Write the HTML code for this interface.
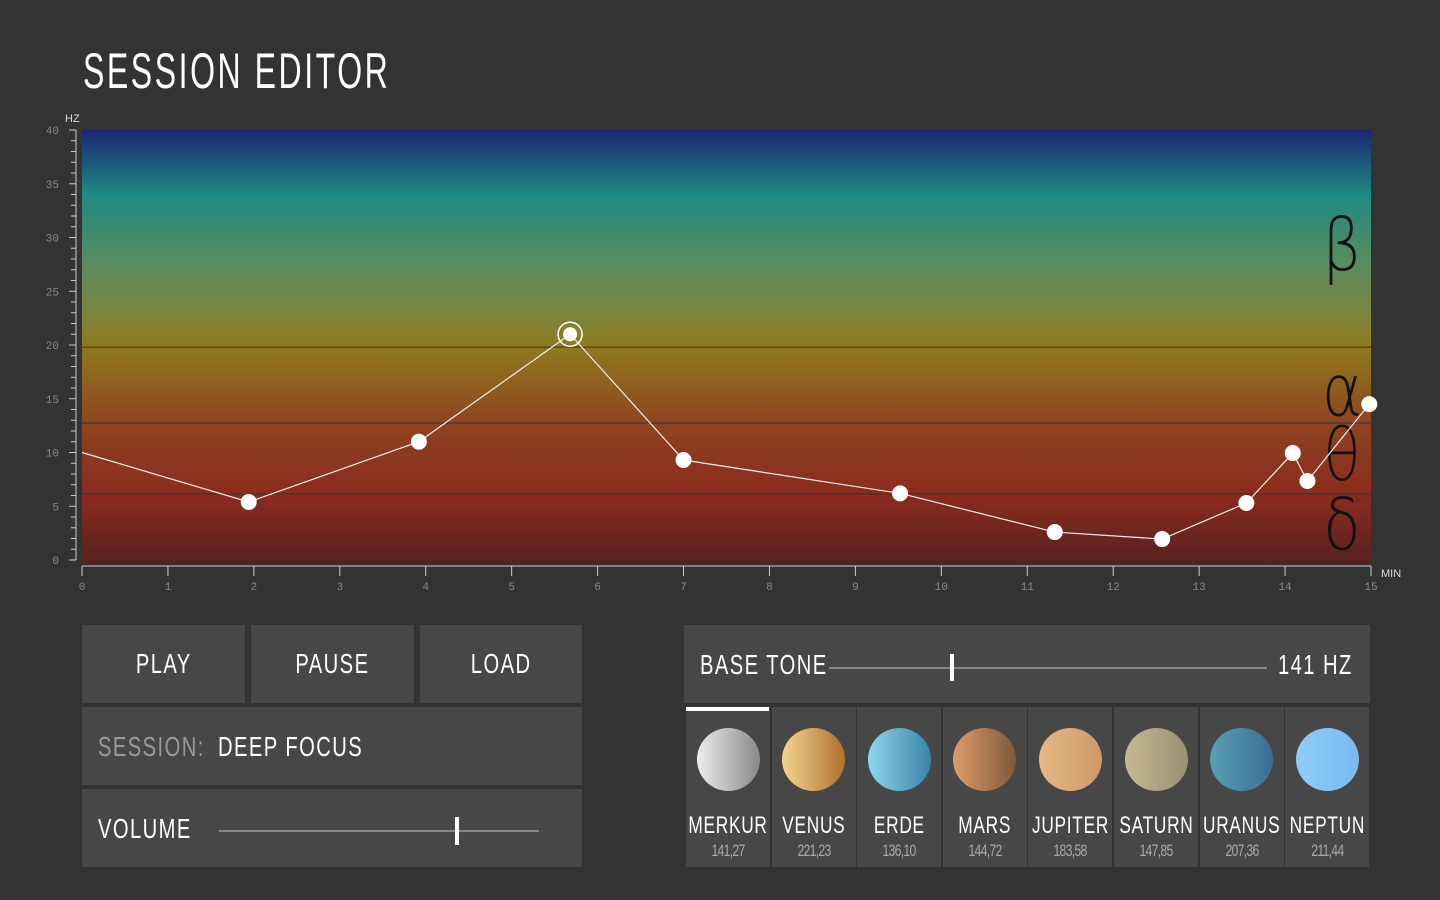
<!DOCTYPE html>
<html><head><meta charset="utf-8"><style>
body{margin:0;width:1440px;height:900px;background:#333;overflow:hidden;font-family:"Liberation Sans",sans-serif;color:#fff}
.abs{position:absolute}
.panel{position:absolute;background:#474747}
.btn{display:flex;align-items:center;justify-content:center;font-size:28px;letter-spacing:2px}
.lbl{font-size:28px;letter-spacing:2px;transform:scaleX(.72);transform-origin:left;white-space:nowrap}
.n{display:inline-block;transform:scaleX(.72);white-space:nowrap}
.cell{position:absolute;top:707px;width:84px;height:160px;background:#474747;text-align:center;overflow:visible}
.cell .ball{width:63px;height:63px;border-radius:50%;margin:21px auto 0}
.cell .nm{font-size:24px;margin-top:21px;white-space:nowrap;display:flex;justify-content:center;letter-spacing:1px}
.cell .v{font-size:17px;color:#aaa;margin-top:1px;letter-spacing:-1px;white-space:nowrap;display:flex;justify-content:center}
</style></head><body>
<div class="abs" style="left:83px;top:42px;font-size:50px;letter-spacing:4px;transform:scaleX(0.64);transform-origin:left;white-space:nowrap">SESSION EDITOR</div>
<svg id="chart" class="abs" style="left:0;top:0" width="1440" height="600">
<defs><linearGradient id="g" x1="0" y1="0" x2="0" y2="1">
<stop offset="0" stop-color="#1b2670"/><stop offset="0.15" stop-color="#1e8a82"/><stop offset="0.3" stop-color="#568c60"/><stop offset="0.42" stop-color="#7a8440"/><stop offset="0.5" stop-color="#8e7a1e"/><stop offset="0.68" stop-color="#8e4320"/><stop offset="0.85" stop-color="#8a2a1e"/><stop offset="1" stop-color="#56211f"/></linearGradient></defs>
</svg>
<div class="panel btn" style="left:82px;top:625px;width:163px;height:78px"><span class="n">PLAY</span></div>
<div class="panel btn" style="left:251px;top:625px;width:163px;height:78px"><span class="n">PAUSE</span></div>
<div class="panel btn" style="left:420px;top:625px;width:162px;height:78px"><span class="n">LOAD</span></div>
<div class="panel" style="left:82px;top:707px;width:500px;height:78px">
<span class="abs lbl" style="left:16px;top:24px;color:#999">SESSION:</span>
<span class="abs lbl" style="left:136px;top:24px">DEEP FOCUS</span></div>
<div class="panel" style="left:82px;top:789px;width:500px;height:78px">
<span class="abs lbl" style="left:16px;top:24px">VOLUME</span>
<div class="abs" style="left:137px;top:41px;width:320px;height:2px;background:#888"></div>
<div class="abs" style="left:373px;top:28px;width:4px;height:28px;background:#fff"></div></div>
<div class="panel" style="left:684px;top:625px;width:686px;height:78px">
<span class="abs lbl" style="left:16px;top:24px">BASE TONE</span>
<div class="abs" style="left:145px;top:42px;width:438px;height:2px;background:#888"></div>
<div class="abs" style="left:266px;top:29px;width:4px;height:27px;background:#fff"></div>
<span class="abs lbl" style="left:594px;top:24px">141 HZ</span></div>
<div id="cells"></div>
<script>
const X0=82,X1=1371,Y0=560,YS=10.75;
const xs=m=>X0+(X1-X0)*m/15, ys=h=>Y0-h*YS;
const timesMin=[0,1.94,3.92,5.68,7.0,9.52,11.32,12.57,13.55,14.09,14.26,14.98];
const freqHz=[10,5.4,11,21,9.3,6.2,2.6,1.95,5.3,9.95,7.35,14.5];
const bandBounds=[19.8,12.75,6.15];
const bandSymbols=["β","α","θ","δ"];
const bandSymbolHz=[29,15.5,9.5,3];
const yTicks=[0,5,10,15,20,25,30,35,40];
const xTicks=[0,1,2,3,4,5,6,7,8,9,10,11,12,13,14,15];
const selectedIndex=3;
const svg=document.getElementById('chart'),NS="http://www.w3.org/2000/svg";
function el(t,a,p){const e=document.createElementNS(NS,t);for(const k in a)e.setAttribute(k,a[k]);(p||svg).appendChild(e);return e;}
let r=el('rect',{x:X0,y:ys(40),width:X1-X0,height:563-ys(40),fill:'url(#g)'});


bandBounds.forEach(b=>{const l=el('line',{x1:X0,x2:X1,y1:ys(b),y2:ys(b),stroke:'#333','stroke-width':1});

});
bandSymbols.forEach((s,i)=>{const t=el('text',{x:1342,y:ys(bandSymbolHz[i])+22,'text-anchor':'middle','font-size':72,'font-family':'DejaVu Sans,sans-serif','font-weight':200,fill:'#111',transform:'translate('+1342+',0) scale(0.85,1) translate('+(-1342)+',0)'});t.textContent=s;

});
el('line',{x1:76,x2:76,y1:ys(40),y2:Y0,stroke:'#ccc'});
for(let h=0;h<=40;h++){el('line',{x1:h%5?71:69,x2:76,y1:ys(h),y2:ys(h),stroke:'#ccc'});}
yTicks.forEach(v=>{const t=el('text',{x:59,y:ys(v)+4,'text-anchor':'end','font-size':11,fill:'#888','font-family':'Liberation Mono,monospace'});t.textContent=v;

});
el('line',{x1:X0,x2:X1,y1:566,y2:566,stroke:'#ccc'});
xTicks.forEach(v=>{el('line',{x1:xs(v),x2:xs(v),y1:566,y2:576,stroke:'#ccc'});
const t=el('text',{x:xs(v),y:590,'text-anchor':'middle','font-size':11,fill:'#888','font-family':'Liberation Mono,monospace'});t.textContent=v;

});
let ty=el('text',{x:65,y:122,'font-size':11,fill:'#ddd'});ty.textContent='HZ';


let tx=el('text',{x:1381,y:577,'font-size':11,fill:'#ddd'});tx.textContent='MIN';


const pl=el('polyline',{points:timesMin.map((m,i)=>xs(m)+','+ys(freqHz[i])).join(' '),fill:'none',stroke:'#eee','stroke-width':1.2});


timesMin.forEach((m,i)=>{if(i===0)return;
if(i===selectedIndex){const c=el('circle',{cx:xs(m),cy:ys(freqHz[i]),r:12,fill:'none',stroke:'#fff','stroke-width':1.5});

}
const c=el('circle',{cx:xs(m),cy:ys(freqHz[i]),r:i===selectedIndex?7:8,fill:'#fff'});

});
const planets=["MERKUR","VENUS","ERDE","MARS","JUPITER","SATURN","URANUS","NEPTUN"];
const planetHz=["141,27","221,23","136,10","144,72","183,58","147,85","207,36","211,44"];
const cols=[["#eee","#888"],["#f3d590","#b0702e"],["#8ed8ec","#3a82a8"],["#e09c6a","#7e5838"],["#e6b888","#cc9a66"],["#c8b894","#9a9074"],["#5aa0b4","#3a6c94"],["#8ecdfa","#7cb8ee"]];
const box=document.getElementById('cells');
planets.forEach((p,i)=>{const d=document.createElement('div');d.className='cell';d.style.left=(686+i*85.6)+'px';


d.innerHTML='<div class="ball" style="background:linear-gradient(90deg,'+cols[i][0]+','+cols[i][1]+')"></div><div class="nm"><span class="n">'+p+'</span></div><div class="v"><span class="n">'+planetHz[i]+'</span></div>'+(i===0?'<div style="position:absolute;left:0;top:0;width:83px;height:4px;background:#fff"></div>':'');
box.appendChild(d);});
</script>
</body></html>
